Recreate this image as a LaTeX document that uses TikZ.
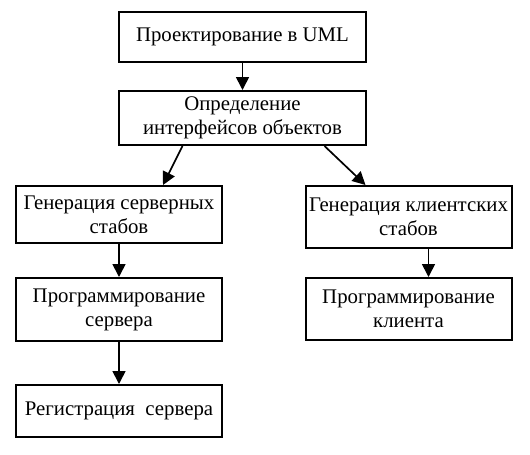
\documentclass[tikz,border=0pt]{standalone}
\usepackage{fontspec}
\setmainfont{Liberation Serif}
\usetikzlibrary{arrows.meta}
\tikzstyle{stage}=[draw, line width=2pt, minimum width=206pt, inner sep=0pt, align=center, font=\fontsize{20.8}{24}\selectfont]
\tikzstyle{edge} = [draw, line width=1.7pt, -{Triangle[length=13pt,width=13pt]}]

\begin{document}
\begin{tikzpicture}[x=1pt, y=-1pt]

    \useasboundingbox (0,0) rectangle (530,455);

    \node[stage, minimum width=247pt, minimum height=50pt] (uml) at (242.5,37) {Проектирование в UML};
    \node[stage, minimum width=247pt, minimum height=54pt] (idl) at (242.5,118) {Определение\\интерфейсов объектов};

     \foreach \x/\y/\h/\name/\txt in {119/214.5/57/genS/{Генерация серверных\\стабов}, 119/309.5/63/progS/{Программирование\\сервера}, 119/411/52/reg/{Регистрация\ \ сервера}, 408.5/217/62/genC/{Генерация клиентских\\стабов}, 408.5/309/62/progC/{Программирование\\клиента}}
        \node[stage, minimum height=\h pt] (\name) at (\x,\y) {\txt};

    \foreach \source/ \dest in {uml/idl, genS/progS, progS/reg}
        \path[edge] (\source) -- (\dest);

    \path[edge] ([xshift=-60pt]idl.south) -- ([xshift=44pt]genS.north);
    \path[edge] ([xshift=82pt]idl.south) -- ([xshift=-43pt]genC.north);
    \path[edge] ([xshift=20pt]genC.south) -- ([xshift=20pt]progC.north);

\end{tikzpicture}
\end{document}
